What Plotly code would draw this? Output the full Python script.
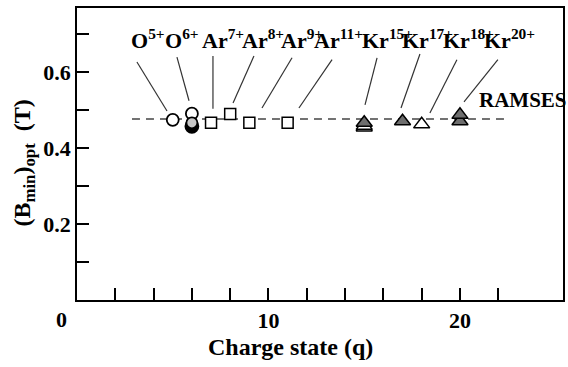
import plotly.graph_objects as go

# ---------------- data ----------------
ion_elements = ["O", "O", "Ar", "Ar", "Ar", "Ar", "Kr", "Kr", "Kr", "Kr"]
ion_charges = ["5+", "6+", "7+", "8+", "9+", "11+", "15+", "17+", "18+", "20+"]

open_circle_q = [5, 6]
open_circle_b = [0.474, 0.490]
black_circle_q = [6]
black_circle_b = [0.457]
gray_circle_q = [6]
gray_circle_b = [0.466]

open_square_q = [7, 8, 9, 11]
open_square_b = [0.466, 0.489, 0.466, 0.466]

open_triangle_q = [15, 15, 18]
open_triangle_b = [0.454, 0.458, 0.462]
dark_triangle_q = [15, 17, 20, 20]
dark_triangle_b = [0.466, 0.470, 0.470, 0.487]

ramses_q = [2.87, 22.35]
ramses_b = [0.476, 0.476]

x_tick_vals = [2, 4, 6, 8, 10, 12, 14, 16, 18, 20, 22]
x_tick_text = ["", "", "", "", "10", "", "", "", "", "20", ""]
y_tick_vals = [0.1, 0.2, 0.3, 0.4, 0.5, 0.6, 0.7]
y_tick_text = ["", "0.2", "", "0.4", "", "0.6", ""]

# ---------------- layout helpers (positions) ----------------
label_x = [3.71, 5.48, 7.62, 9.71, 11.75, 13.68, 16.24, 18.28, 20.42, 22.56]
label_y = 0.644
leader_start = [(3.13, 0.626), (5.22, 0.639), (7.10, 0.642), (9.24, 0.642), (11.23, 0.637),
                (13.32, 0.632), (15.67, 0.637), (17.91, 0.647), (19.84, 0.632), (21.98, 0.632)]
leader_end = [(4.70, 0.497), (5.85, 0.524), (7.10, 0.503), (8.15, 0.518), (9.66, 0.505),
              (11.59, 0.505), (15.04, 0.513), (16.92, 0.505), (18.43, 0.492), (20.21, 0.521)]

FONT = "Liberation Serif, Times New Roman, serif"

fig = go.Figure()

fig.add_trace(go.Scatter(x=ramses_q, y=ramses_b, mode="lines",
                         line=dict(color="#444444", width=1.5, dash="8px,6px"),
                         hoverinfo="skip"))
fig.add_trace(go.Scatter(x=open_circle_q, y=open_circle_b, mode="markers",
                         marker=dict(symbol="circle", size=12, color="white",
                                     line=dict(color="black", width=1.8))))
fig.add_trace(go.Scatter(x=black_circle_q, y=black_circle_b, mode="markers",
                         marker=dict(symbol="circle", size=13, color="black",
                                     line=dict(color="black", width=1.8))))
fig.add_trace(go.Scatter(x=gray_circle_q, y=gray_circle_b, mode="markers",
                         marker=dict(symbol="circle", size=11, color="#c8c8c8",
                                     line=dict(color="black", width=1.8))))
fig.add_trace(go.Scatter(x=open_square_q, y=open_square_b, mode="markers",
                         marker=dict(symbol="square", size=11, color="white",
                                     line=dict(color="black", width=1.5))))
fig.add_trace(go.Scatter(x=open_triangle_q, y=open_triangle_b, mode="markers",
                         marker=dict(symbol="triangle-up", size=14, color="white",
                                     line=dict(color="black", width=1.5))))
fig.add_trace(go.Scatter(x=dark_triangle_q, y=dark_triangle_b, mode="markers",
                         marker=dict(symbol="triangle-up", size=14, color="#6e6e6e",
                                     line=dict(color="black", width=1.5))))

annotations = []
for el, ch, lx in zip(ion_elements, ion_charges, label_x):
    annotations.append(dict(x=lx, y=label_y, xref="x", yref="y", xanchor="center",
                            yanchor="bottom", showarrow=False,
                            text=f"{el}<sup>{ch}</sup>",
                            font=dict(family=FONT, size=22, color="black", weight="bold")))
annotations.append(dict(x=20.9, y=0.526, xref="x", yref="y", xanchor="left", yanchor="middle",
                        showarrow=False, text="RAMSES",
                        font=dict(family=FONT, size=21, color="black", weight="bold")))
annotations.append(dict(x=-0.031, y=-0.068, xref="paper", yref="paper", xanchor="center",
                        yanchor="middle", showarrow=False, text="0",
                        font=dict(family=FONT, size=22, color="black", weight="bold")))
annotations.append(dict(x=0.44, y=-0.161, xref="paper", yref="paper", xanchor="center",
                        yanchor="middle", showarrow=False, text="Charge state (q)",
                        font=dict(family=FONT, size=24, color="black", weight="bold")))
annotations.append(dict(x=-0.108, y=0.469, xref="paper", yref="paper", xanchor="center",
                        yanchor="middle", showarrow=False, textangle=-90,
                        text="(B<sub>min</sub>)<sub>opt</sub>  (T)",
                        font=dict(family=FONT, size=24, color="black", weight="bold")))

shapes = []
for (x0, y0), (x1, y1) in zip(leader_start, leader_end):
    shapes.append(dict(type="line", xref="x", yref="y", x0=x0, y0=y0, x1=x1, y1=y1,
                       line=dict(color="#333333", width=1.2)))

fig.update_layout(
    width=568, height=367,
    margin=dict(l=77, r=5, t=8, b=67),
    paper_bgcolor="white", plot_bgcolor="white",
    showlegend=False,
    annotations=annotations,
    shapes=shapes,
    xaxis=dict(range=[0, 25.38], tickmode="array", tickvals=x_tick_vals, ticktext=x_tick_text,
               ticks="inside", ticklen=12, tickwidth=1.5, tickcolor="black",
               showline=True, linecolor="black", linewidth=1.8, mirror=True,
               showgrid=False, zeroline=False, automargin=False,
               tickfont=dict(family=FONT, size=22, color="black", weight="bold")),
    yaxis=dict(range=[0, 0.768], tickmode="array", tickvals=y_tick_vals, ticktext=y_tick_text,
               ticks="inside", ticklen=12, tickwidth=1.5, tickcolor="black",
               showline=True, linecolor="black", linewidth=1.8, mirror=True,
               showgrid=False, zeroline=False, automargin=False,
               tickfont=dict(family=FONT, size=22, color="black", weight="bold")),
)

fig.write_html("out.html", config={"displayModeBar": False},
               post_script="document.body.style.margin='0';document.body.style.overflow='hidden';")
